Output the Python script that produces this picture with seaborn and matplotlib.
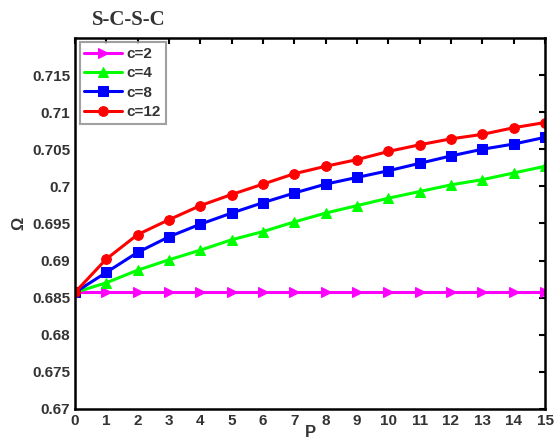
import numpy as np
import seaborn as sns
import matplotlib.pyplot as plt

sns.set_style("white")
plt.rcParams['font.family'] = ['Liberation Sans', 'DejaVu Sans']

P = list(range(16))
omega_c2 = [0.6857] * 16
omega_c4 = [0.6857, 0.6870, 0.6887, 0.6901, 0.6914, 0.6928, 0.6939, 0.6952,
            0.6964, 0.6974, 0.6984, 0.6993, 0.7002, 0.7009, 0.7018, 0.7027]
omega_c8 = [0.6857, 0.6884, 0.6911, 0.6932, 0.6949, 0.6964, 0.6978, 0.6991,
            0.7003, 0.7012, 0.7021, 0.7031, 0.7041, 0.7050, 0.7057, 0.7066]
omega_c12 = [0.6857, 0.6902, 0.6935, 0.6955, 0.6974, 0.6989, 0.7003, 0.7017,
             0.7027, 0.7036, 0.7047, 0.7056, 0.7064, 0.7070, 0.7079, 0.7086]

series = [
    ("c=2", omega_c2, "#ff00ff", ">"),
    ("c=4", omega_c4, "#00ff00", "^"),
    ("c=8", omega_c8, "#0000ff", "s"),
    ("c=12", omega_c12, "#ff0000", "o"),
]

fig = plt.figure(figsize=(5.55, 4.46), dpi=100)
ax = fig.add_axes([0.135, 0.083, 0.847, 0.832])

for name, vals, col, mk in series:
    sns.lineplot(x=P, y=vals, ax=ax, color=col, marker=mk, markersize=7,
                 markeredgecolor=col, linewidth=2.2, label=name)

ax.set_xlim(0, 15)
ax.set_ylim(0.67, 0.72)
ax.set_xticks(P)
ax.set_yticks(np.arange(0.67, 0.7151, 0.005))
ax.set_yticklabels(["0.67", "0.675", "0.68", "0.685", "0.69", "0.695",
                    "0.7", "0.705", "0.71", "0.715"])
ax.tick_params(direction="in", top=True, right=True, length=4, width=1.5,
               labelsize=11, labelcolor="#333333", color="black")
for lab in ax.get_xticklabels() + ax.get_yticklabels():
    lab.set_fontweight("bold")
for sp in ax.spines.values():
    sp.set_linewidth(1.8)
    sp.set_color("black")

ax.set_xlabel("P", fontsize=12, fontweight="bold", color="#333333", labelpad=-2)
ax.set_ylabel("Ω", fontsize=12, fontweight="bold", color="#333333", labelpad=4)

leg = ax.legend(loc="upper left", fontsize=11, frameon=True, fancybox=False,
                borderaxespad=0.3, handlelength=2.5, borderpad=0.3,
                labelspacing=0.35, handletextpad=0.3)
leg.get_frame().set_edgecolor("#888888")
leg.get_frame().set_linewidth(1.5)
for t in leg.get_texts():
    t.set_fontweight("bold")
    t.set_color("#333333")

fig.text(0.165, 0.945, "S-C-S-C", fontsize=15, fontweight="bold",
         family=["Liberation Serif", "DejaVu Serif"], color="#333333")

fig.savefig("out.png", dpi=100)
